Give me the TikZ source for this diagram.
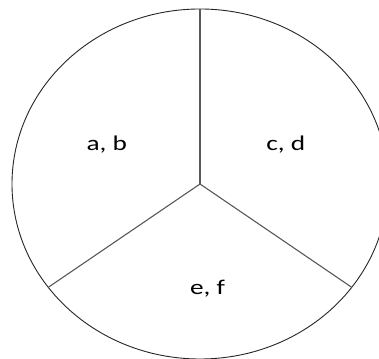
\documentclass[tikz,border=0pt]{standalone}
\usepackage{fontspec}
\setmainfont{Carlito}
\begin{document}
\begin{tikzpicture}[x=1pt,y=1pt,
  rim/.style={draw=black!85, line width=0.9pt},
  spoke/.style={draw=black!65, line width=1.1pt},
  lbl/.style={anchor=base, inner sep=0pt, font=\fontsize{21}{24}\selectfont}]
\useasboundingbox (0,0) rectangle (379,358);
\fill[white] (0,0) rectangle (379,358);
\clip (0,0) rectangle (379,358);
\coordinate (c) at (200,174);
\coordinate (top) at (200,349);
\coordinate (left) at (48.3,70.7);
\coordinate (right) at (351.7,70.7);
\draw[rim] (c) ellipse [x radius=188, y radius=175];
\draw[spoke] (c) -- (top);
\draw[spoke] (c) -- (left);
\draw[spoke] (c) -- (right);
\node[lbl] (ab) at (106.8,207) {\scalebox{1.3}[1]{a, b}};
\node[lbl] (cd) at (285.8,207) {\scalebox{1.3}[1]{c, d}};
\node[lbl] (ef) at (207.5,63.7) {\scalebox{1.3}[1]{e, f}};
\end{tikzpicture}
\end{document}
